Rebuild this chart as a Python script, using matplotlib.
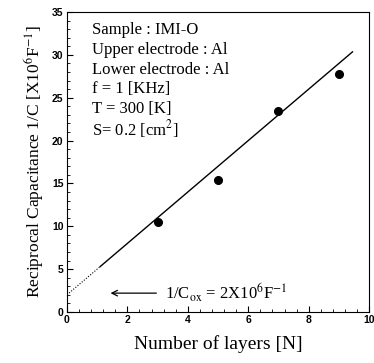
import numpy as np
import matplotlib
matplotlib.use("Agg")
import matplotlib.pyplot as plt
from matplotlib.ticker import MultipleLocator

# data
layers = [3, 5, 7, 9]
recip_cap = [10.5, 15.4, 23.4, 27.8]

# fitted line 1/C = a + b*N
fit_intercept = 2.0
fit_slope = 3.0
fit_x_solid = [1.1, 9.45]
fit_x_dotted = [0.0, 1.1]

info_lines = [
    "Sample : IMI-O",
    "Upper electrode : Al",
    "Lower electrode : Al",
    "f = 1 [KHz]",
    "T = 300 [K]",
    "S= 0.2 [cm$^2$]",
]

plt.rcParams["mathtext.fontset"] = "stix"
serif = "Liberation Serif"

fig = plt.figure(figsize=(3.74, 3.63), dpi=100)
ax = fig.add_axes([0.179, 0.1405, 0.808, 0.8265])

xs = np.array(fit_x_solid)
ax.plot(xs, fit_intercept + fit_slope * xs, color="black", lw=1.0)
xd = np.array(fit_x_dotted)
ax.plot(xd, fit_intercept + fit_slope * xd, color="black", lw=0.8, ls=(0, (1, 1.5)))
ax.plot(layers, recip_cap, "o", color="black", ms=5.5)

ax.set_xlim(0, 10)
ax.set_ylim(0, 35)
ax.xaxis.set_major_locator(MultipleLocator(2))
ax.xaxis.set_minor_locator(MultipleLocator(0.4))
ax.yaxis.set_major_locator(MultipleLocator(5))
ax.yaxis.set_minor_locator(MultipleLocator(1))
ax.tick_params(which="both", direction="in", top=False, right=False)
ax.tick_params(which="major", length=4, labelsize=7.5, pad=2.5)
ax.tick_params(which="minor", length=2)
for lab in ax.get_xticklabels() + ax.get_yticklabels():
    lab.set_fontweight("bold")
    lab.set_family("Liberation Sans")

ax.set_xlabel("Number of layers [N]", family=serif, fontsize=14, labelpad=7)
ax.set_ylabel("Reciprocal Capacitance 1/C [X10$^6$F$^{-1}$]", family=serif,
              fontsize=12.5, labelpad=4)

for i, line in enumerate(info_lines):
    ax.text(0.082, 0.94 - i * 0.066, line, transform=ax.transAxes,
            family=serif, fontsize=12, va="center")

ax.annotate("", xy=(1.35, 2.2), xytext=(3.05, 2.2),
            arrowprops=dict(arrowstyle="->", color="black", lw=0.9))
ax.text(3.25, 2.2, "1/C$_{\\mathrm{ox}}$ = 2X10$^6$F$^{-1}$", family=serif,
        fontsize=12, va="center")

fig.savefig("out.png", dpi=100)
